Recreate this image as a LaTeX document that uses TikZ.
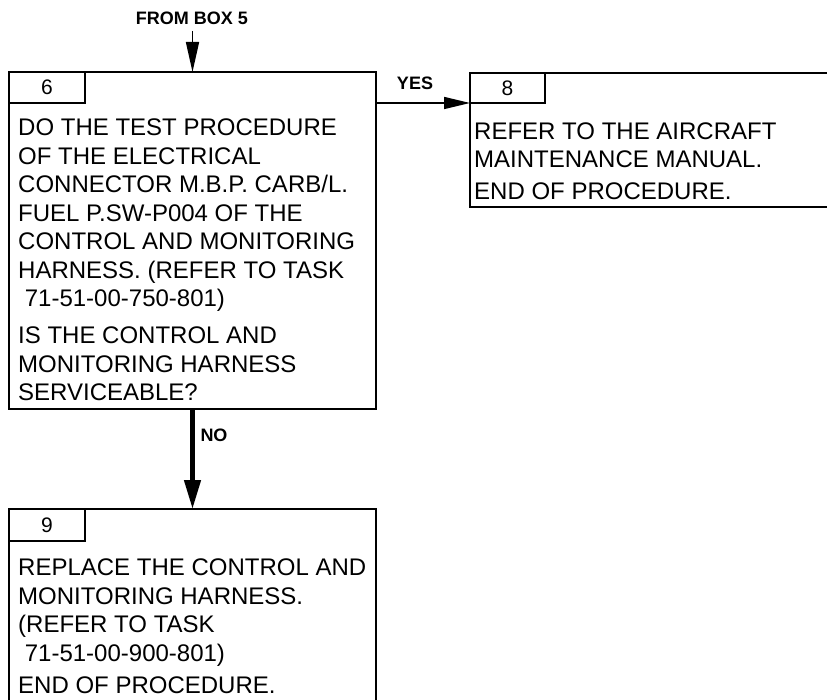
\documentclass[tikz,border=0pt]{standalone}
\usepackage{fontspec}
\setmainfont{Liberation Sans}
\usetikzlibrary{arrows.meta}
\begin{document}
\begin{tikzpicture}[x=1pt,y=-1pt,
  box/.style={draw, line width=2.2pt, inner sep=0pt, outer sep=0pt, anchor=north west},
  body/.style={anchor=north west, align=left, inner sep=0pt, font=\fontsize{24}{28.5}\selectfont},
  numtxt/.style={inner sep=0pt, font=\fontsize{21}{21}\selectfont},
  lbl/.style={inner sep=0pt, font=\bfseries\fontsize{18}{18}\selectfont},
  thinarrow/.style={line width=1.6pt, -{Triangle[length=30pt,width=13pt]}},
  yesarrow/.style={line width=1.6pt, -{Triangle[length=26pt,width=12pt]}},
  noarrow/.style={line width=4.5pt, -{Triangle[length=29pt,width=16pt]}}]
\useasboundingbox (0,0) rectangle (827,700);
% box 6
\node[box, minimum width=367pt, minimum height=337pt] (b6) at (9,72) {};
\node[box, minimum width=76pt, minimum height=31pt] (t6) at (9,72) {};
\node[numtxt] (n6) at (t6.center) {6};
\node[body] (x6) at (18,119) {DO THE TEST PROCEDURE\\OF THE ELECTRICAL\\CONNECTOR M.B.P. CARB/L.\\FUEL P.SW-P004 OF THE\\CONTROL AND MONITORING\\HARNESS. (REFER TO TASK\\\ 71-51-00-750-801)\\[8.5pt]IS THE CONTROL AND\\MONITORING HARNESS\\SERVICEABLE?};
% box 8
\node[box, minimum width=370pt, minimum height=134pt] (b8) at (470,73) {};
\node[box, minimum width=75pt, minimum height=30pt] (t8) at (470,73) {};
\node[numtxt] (n8) at (t8.center) {8};
\node[body] (x8) at (474,122.5) {REFER TO THE AIRCRAFT\\MAINTENANCE MANUAL.\\[3.5pt]END OF PROCEDURE.};
% box 9
\node[box, minimum width=367pt, minimum height=210pt] (b9) at (9,509) {};
\node[box, minimum width=76pt, minimum height=32pt] (t9) at (9,509) {};
\node[numtxt] (n9) at (t9.center) {9};
\node[body] (x9) at (18,559) {REPLACE THE CONTROL AND\\MONITORING HARNESS.\\(REFER TO TASK\\\ 71-51-00-900-801)\\[4pt]END OF PROCEDURE.};
% connectors
\coordinate (src) at (192.5,31);
\node[lbl] (from) at (192,18) {FROM BOX 5};
\draw[thinarrow] (src) -- (b6.north);
\draw[yesarrow] (t6.south -| b6.east) -- (t8.south -| b8.west);
\node[lbl] (yes) at (415,83) {YES};
\draw[noarrow] (b6.south) -- (b9.north);
\node[lbl] (no) at (214,435) {NO};
\end{tikzpicture}
\end{document}
